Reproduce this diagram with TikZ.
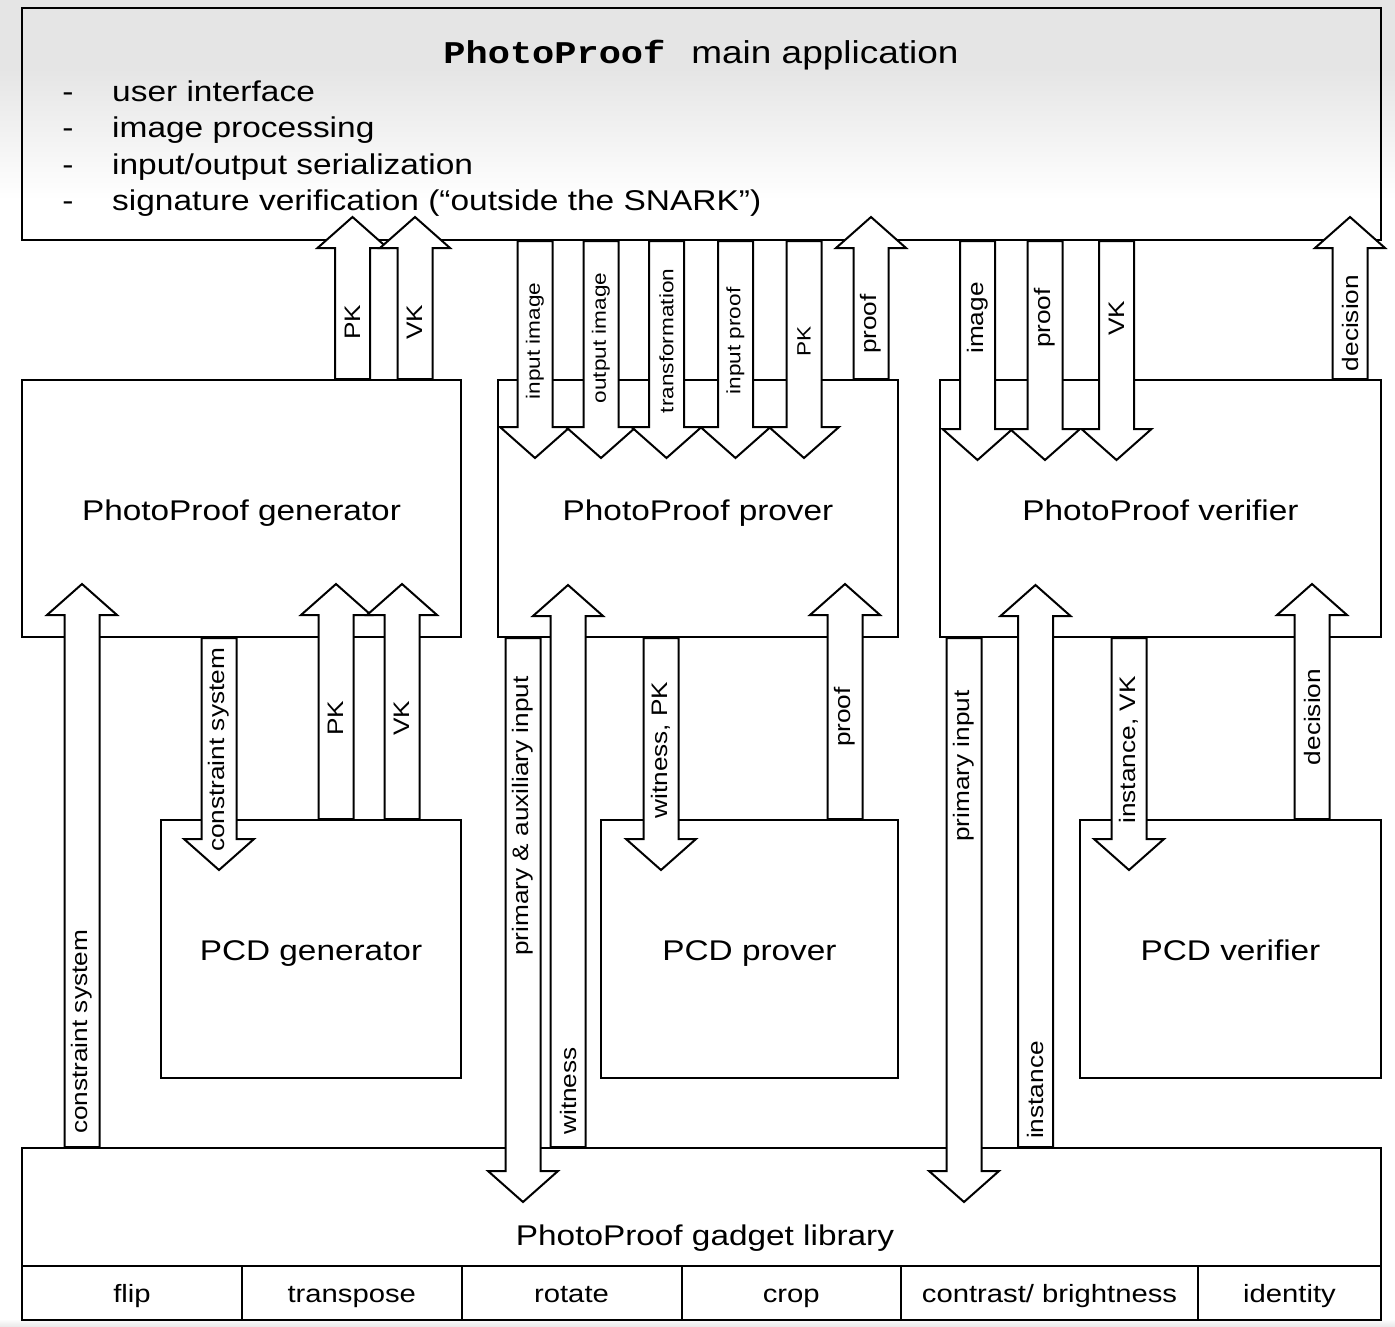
\documentclass[tikz,border=0pt]{standalone}
\usepackage{fontspec}
\setmainfont{Liberation Sans}[FakeStretch=1.17]
\newfontfamily\titlemono{Liberation Mono}[FakeStretch=1.17]
\newcommand\UpBlk[3]{\draw[blk] ({#1-17.5},0 |- #2) -- ({#1-17.5},{#3+31}) -- ({#1-35},{#3+31}) -- (#1,#3) -- ({#1+35},{#3+31}) -- ({#1+17.5},{#3+31}) -- ({#1+17.5},0 |- #2) -- cycle;}
\newcommand\DnBlk[3]{\draw[blk] ({#1-17.5},0 |- #2) -- ({#1-17.5},{#3-31}) -- ({#1-35},{#3-31}) -- (#1,#3) -- ({#1+35},{#3-31}) -- ({#1+17.5},{#3-31}) -- ({#1+17.5},0 |- #2) -- cycle;}
\begin{document}
\begin{tikzpicture}[x=1pt,y=-1pt,
  box/.style={draw, line width=2pt, inner sep=0pt, text height=24pt, text depth=1pt, font=\fontsize{28.5}{34}\selectfont},
  cell/.style={draw, line width=2pt, inner sep=0pt, minimum height=54pt, text height=18pt, text depth=0pt, font=\fontsize{25}{30}\selectfont},
  blk/.style={draw, line width=2pt, fill=white, line join=miter},
  lab/.style={rotate=90, inner sep=0pt, font=\fontsize{22.4}{27}\selectfont},
  labs/.style={rotate=90, inner sep=0pt, font=\fontsize{19.3}{23}\selectfont},
  bul/.style={anchor=base, inner sep=0pt, font=\fontsize{28.6}{34}\selectfont},
  bultxt/.style={anchor=base west, inner sep=0pt, font=\fontsize{28.6}{34}\selectfont}]
\useasboundingbox (0,0) rectangle (1395,1326);
% background gradient
\fill[black!10] (0,0) rectangle (1395,70);
\shade[top color=black!10, bottom color=white] (0,70) rectangle (1395,200);
\shade[top color=white, bottom color=black!8] (0,1319) rectangle (1395,1326);

% main application
\node[box, line width=2.4pt, minimum width=1359pt, minimum height=232pt] (main) at (701.5,124) {};
\node[anchor=base, inner sep=0pt, font=\fontsize{31.6}{38}\selectfont] (title) at (701,63)
  {{\titlemono\bfseries PhotoProof}\hspace{26pt}main application};
\node[bul] (d1) at (68,101) {-};
\node[bultxt] (b1) at (112,101) {user interface};
\node[bul] (d2) at (68,137.5) {-};
\node[bultxt] (b2) at (112,137.5) {image processing};
\node[bul] (d3) at (68,174) {-};
\node[bultxt] (b3) at (112,174) {input/output serialization};
\node[bul] (d4) at (68,210.5) {-};
\node[bultxt] (b4) at (112,210.5) {signature verification (“outside the SNARK”)};

% second row
\node[box, minimum width=439pt, minimum height=257pt] (gen) at (241.5,508.5) {PhotoProof generator};
\node[box, minimum width=400pt, minimum height=257pt] (prover) at (698,508.5) {PhotoProof prover};
\node[box, minimum width=441pt, minimum height=257pt] (verifier) at (1160.5,508.5) {PhotoProof verifier};

% PCD row
\node[box, minimum width=300pt, minimum height=258pt] (pcdgen) at (311,949) {PCD generator};
\node[box, minimum width=297pt, minimum height=258pt] (pcdprover) at (749.5,949) {PCD prover};
\node[box, minimum width=301pt, minimum height=258pt] (pcdverifier) at (1230.5,949) {PCD verifier};

% gadget library
\node[box, minimum width=1359pt, minimum height=118pt] (gadget) at (701.5,1207) {};
\node[anchor=base, inner sep=0pt, font=\fontsize{28.5}{34}\selectfont] (gadgetlabel) at (705,1245) {PhotoProof gadget library};
\node[cell, minimum width=220pt] (flip) at (132,1293) {flip};
\node[cell, minimum width=219.5pt] (transpose) at (351.75,1293) {transpose};
\node[cell, minimum width=220pt] (rotate) at (571.5,1293) {rotate};
\node[cell, minimum width=219.5pt] (crop) at (791.25,1293) {crop};
\node[cell, minimum width=297pt] (contrast) at (1049.5,1293) {contrast/ brightness};
\node[cell, minimum width=183pt] (identity) at (1289.5,1293) {identity};

% arrows: generator <-> main
\UpBlk{352.5}{gen.north}{217}
\UpBlk{415}{gen.north}{217}
% main -> prover
\DnBlk{535}{main.south}{458}
\DnBlk{601}{main.south}{458}
\DnBlk{666.5}{main.south}{458}
\DnBlk{735.5}{main.south}{458}
\DnBlk{804}{main.south}{458}
\UpBlk{871}{prover.north}{217}
% main -> verifier
\DnBlk{977.5}{main.south}{460}
\DnBlk{1045}{main.south}{460}
\DnBlk{1116.5}{main.south}{460}
\UpBlk{1350}{verifier.north}{217}

% generator column
\UpBlk{82}{gadget.north}{584}
\DnBlk{219}{gen.south}{870}
\UpBlk{336}{pcdgen.north}{584}
\UpBlk{402}{pcdgen.north}{584}
% prover column
\DnBlk{523}{prover.south}{1202}
\UpBlk{568}{gadget.north}{585}
\DnBlk{661}{prover.south}{870}
\UpBlk{845}{pcdprover.north}{584}
% verifier column
\DnBlk{964}{verifier.south}{1202}
\UpBlk{1035.5}{gadget.north}{585}
\DnBlk{1129}{verifier.south}{870}
\UpBlk{1312}{pcdverifier.north}{584}

% labels
\node[lab] (lpk1) at (352.5,322) {PK};
\node[lab] (lvk1) at (415,322) {VK};
\node[labs] (lii) at (535,341) {input image};
\node[labs] (loi) at (601,338) {output image};
\node[labs] (ltr) at (666.5,341) {transformation};
\node[labs] (lip) at (735.5,341) {input proof};
\node[labs] (lpk2) at (804,341) {PK};
\node[lab] (lpr1) at (871,324) {proof};
\node[lab] (lim) at (977.5,318) {image};
\node[lab] (lpr2) at (1045,318) {proof};
\node[lab] (lvk2) at (1116.5,318) {VK};
\node[lab] (ldc1) at (1350,323) {decision};

\node[lab] (lcs1) at (82,1032) {constraint system};
\node[lab] (lcs2) at (219,750) {constraint system};
\node[lab] (lpk3) at (336,718) {PK};
\node[lab] (lvk3) at (402,718) {VK};
\node[lab] (lpai) at (523,816) {primary \& auxiliary input};
\node[lab] (lw) at (568,1091) {witness};
\node[lab] (lwpk) at (661,750) {witness, PK};
\node[lab] (lpr3) at (845,717) {proof};
\node[lab] (lpi) at (964,766) {primary input};
\node[lab] (lin) at (1035.5,1090) {instance};
\node[lab] (linvk) at (1129,750) {instance, VK};
\node[lab] (ldc2) at (1312,717) {decision};
\end{tikzpicture}
\end{document}
